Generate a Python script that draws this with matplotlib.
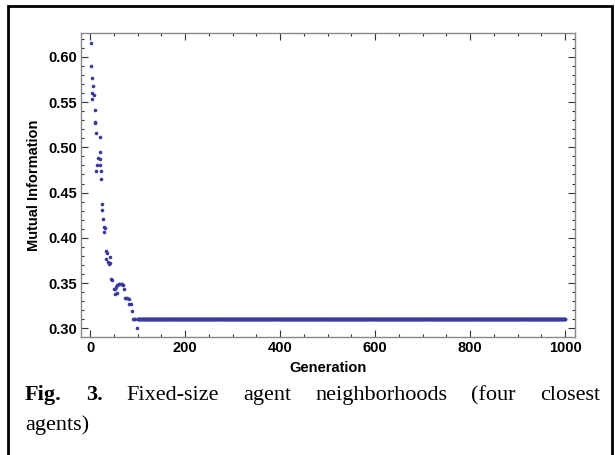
"""Fig. 3 recreation: mutual information vs generation, fixed-size neighborhoods."""
import numpy as np
import matplotlib
matplotlib.use("Agg")
import matplotlib.pyplot as plt
from matplotlib.patches import Rectangle
from matplotlib.ticker import MultipleLocator, FormatStrFormatter

# early transient: generation / mutual information
early_gen = [1, 3, 4, 6, 5, 8, 5, 10, 10, 11, 12, 20, 20, 16, 21, 14, 22, 13, 23, 23,
             26, 26, 28, 29, 32, 30, 34, 36, 41, 33, 38, 42, 39, 45, 46, 50, 52, 55,
             57, 60, 62, 65, 67, 70, 53, 56, 72, 74, 76, 78, 81, 83, 86, 88, 90, 92,
             95, 98]
early_mi = [0.615, 0.590, 0.576, 0.568, 0.560, 0.558, 0.553, 0.541, 0.528, 0.527,
            0.516, 0.511, 0.495, 0.488, 0.487, 0.480, 0.480, 0.4735, 0.4735, 0.465,
            0.437, 0.431, 0.4205, 0.4124, 0.4106, 0.407, 0.3852, 0.3837, 0.379,
            0.3764, 0.3737, 0.3727, 0.371, 0.3543, 0.354, 0.3433, 0.3433, 0.346,
            0.3483, 0.349, 0.349, 0.349, 0.349, 0.3477, 0.338, 0.339, 0.3433,
            0.3335, 0.3335, 0.3335, 0.333, 0.327, 0.327, 0.3193, 0.3105, 0.3105,
            0.3105, 0.300]
# converged plateau: one point per generation from 100 to 1000
plateau_start, plateau_end = 100, 1000
plateau_mi = 0.3110

dot_color = "#3a3a9e"
W, H = 615, 455
fig = plt.figure(figsize=(W / 100, H / 100), dpi=100)
ax = fig.add_axes([81 / W, 1 - 337 / H, (575 - 81) / W, (337 - 33) / H])

plat_gen = np.arange(plateau_start, plateau_end + 1)
ax.plot(plat_gen, np.full(plat_gen.size, plateau_mi), ls="none", marker="o",
        ms=2.6, mec="none", mfc=dot_color)
ax.plot(early_gen, early_mi, ls="none", marker="o", ms=2.6, mec="none",
        mfc=dot_color)

ax.set_xlim(-19, 1021)
ax.set_ylim(0.2906, 0.6262)
ax.xaxis.set_major_locator(MultipleLocator(200))
ax.xaxis.set_minor_locator(MultipleLocator(50))
ax.yaxis.set_major_locator(MultipleLocator(0.05))
ax.yaxis.set_minor_locator(MultipleLocator(0.01))
ax.yaxis.set_major_formatter(FormatStrFormatter("%.2f"))
ax.tick_params(which="both", direction="in", top=True, right=True,
               color="#333333", width=0.8)
ax.tick_params(which="major", length=5, pad=3)
ax.tick_params(which="minor", length=2.5)
for s in ax.spines.values():
    s.set_color("#888888")
    s.set_linewidth(1.0)

lab = dict(family="Liberation Sans", weight="bold", size=10.5)
for t in ax.get_xticklabels() + ax.get_yticklabels():
    t.set_fontproperties(matplotlib.font_manager.FontProperties(**lab))
ax.set_xlabel("Generation", labelpad=4, **lab)
ax.set_ylabel("Mutual Information", labelpad=5, **lab)

# outer frame of the figure panel
fig.patches.append(Rectangle((8 / W, -0.05), (612 - 8) / W, 1.05 - 6 / H,
                             transform=fig.transFigure, fill=False,
                             ec="black", lw=2.0))

# justified caption, line 1
cap = dict(family="Liberation Serif", size=16)
words = [("Fig.", "bold"), ("3.", "bold"), ("Fixed-size", "normal"),
         ("agent", "normal"), ("neighborhoods", "normal"), ("(four", "normal"),
         ("closest", "normal")]
x0, x1, y1 = 25, 600, 400
r = fig.canvas.get_renderer()
arts = [fig.text(0, 1 - y1 / H, w, weight=wt, **cap) for w, wt in words]
widths = [a.get_window_extent(r).width for a in arts]
gap = (x1 - x0 - sum(widths)) / (len(words) - 1)
x = x0
for a, w in zip(arts, widths):
    a.set_x(x / W)
    x += w + gap
fig.text(x0 / W, 1 - 430 / H, "agents)", **cap)

fig.savefig("out.png", dpi=100)
